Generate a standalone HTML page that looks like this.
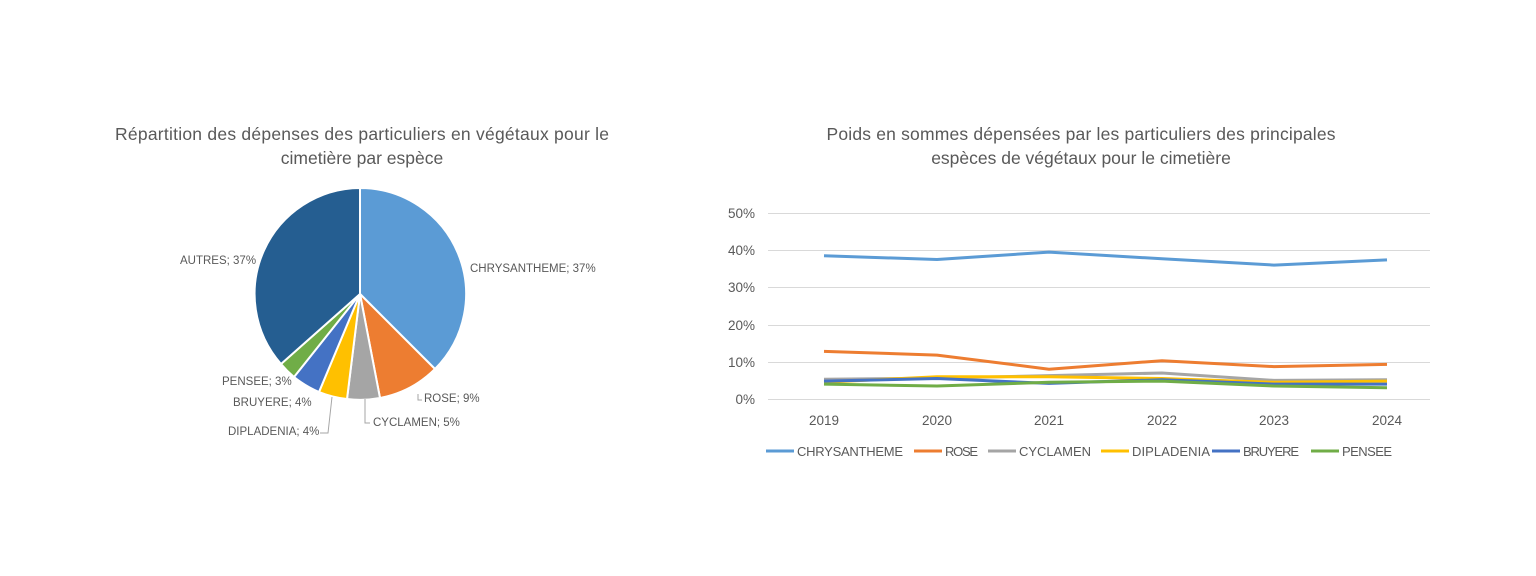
<!DOCTYPE html>
<html><head><meta charset="utf-8"><style>
body{margin:0;background:#fff;}
svg text{font-family:"Liberation Sans",sans-serif;fill:#595959;}
</style></head><body>
<svg width="1536" height="571" viewBox="0 0 1536 571" xmlns="http://www.w3.org/2000/svg">
<rect width="1536" height="571" fill="#fff"/>
<text x="362" y="140" font-size="17.5" text-anchor="middle" textLength="494">Répartition des dépenses des particuliers en végétaux pour le</text>
<text x="362" y="164" font-size="17.5" text-anchor="middle">cimetière par espèce</text>
<g stroke="#fff" stroke-width="2">
<path d="M360,294 L360,188 A106,106 0 0 1 435,369 Z" fill="#5B9BD5"/>
<path d="M360,294 L435,369 A106,106 0 0 1 380,398 Z" fill="#ED7D31"/>
<path d="M360,294 L380,398 A106,106 0 0 1 347,399 Z" fill="#A5A5A5"/>
<path d="M360,294 L347,399 A106,106 0 0 1 319,392 Z" fill="#FFC000"/>
<path d="M360,294 L319,392 A106,106 0 0 1 294,377 Z" fill="#4472C4"/>
<path d="M360,294 L294,377 A106,106 0 0 1 281,364 Z" fill="#70AD47"/>
<path d="M360,294 L281,364 A106,106 0 0 1 360,188 Z" fill="#255E91"/>
</g>
<g fill="none" stroke="#a6a6a6" stroke-width="1">
<polyline points="418,394 418,400 422,400"/>
<polyline points="365,399 365,423 370,423"/>
<polyline points="332,397 328,433 320,433"/>
</g>
<g font-size="11.5">
<text x="470" y="272">CHRYSANTHEME; 37%</text>
<text x="424" y="402">ROSE; 9%</text>
<text x="373" y="426">CYCLAMEN; 5%</text>
<text x="228" y="435">DIPLADENIA; 4%</text>
<text x="233" y="406">BRUYERE; 4%</text>
<text x="222" y="385">PENSEE; 3%</text>
<text x="180" y="264">AUTRES; 37%</text>
</g>
<text x="1081" y="140" font-size="17.5" text-anchor="middle" textLength="509">Poids en sommes dépensées par les particuliers des principales</text>
<text x="1081" y="164" font-size="17.5" text-anchor="middle">espèces de végétaux pour le cimetière</text>
<g stroke="#d9d9d9" stroke-width="1">
<line x1="768" x2="1430" y1="213.5" y2="213.5"/><line x1="768" x2="1430" y1="250.5" y2="250.5"/>
<line x1="768" x2="1430" y1="287.5" y2="287.5"/><line x1="768" x2="1430" y1="325.5" y2="325.5"/>
<line x1="768" x2="1430" y1="362.5" y2="362.5"/><line x1="768" x2="1430" y1="399.5" y2="399.5"/>
</g>
<g font-size="13.5" text-anchor="end">
<text x="755" y="218">50%</text><text x="755" y="255">40%</text><text x="755" y="292">30%</text>
<text x="755" y="330">20%</text><text x="755" y="367">10%</text><text x="755" y="404">0%</text>
</g>
<g font-size="13.5" text-anchor="middle">
<text x="824" y="425">2019</text><text x="937" y="425">2020</text><text x="1049" y="425">2021</text>
<text x="1162" y="425">2022</text><text x="1274" y="425">2023</text><text x="1387" y="425">2024</text>
</g>
<g fill="none" stroke-width="3" stroke-linejoin="round">
<polyline stroke="#A5A5A5" points="824,379.3 937,378.2 1049,375.6 1162,373 1274,380.4 1387,379.7"/>
<polyline stroke="#FFC000" points="824,382.3 937,376.7 1049,376.7 1162,378.5 1274,382.3 1387,381.1"/>
<polyline stroke="#4472C4" points="824,381.1 937,378.5 1049,383.4 1162,379.7 1274,384.1 1387,384.1"/>
<polyline stroke="#70AD47" points="824,384.1 937,386 1049,382.3 1162,381.1 1274,386 1387,387.8"/>
<polyline stroke="#ED7D31" points="824,351.4 937,355.1 1049,369.2 1162,360.7 1274,366.6 1387,364.4"/>
<polyline stroke="#5B9BD5" points="824,255.8 937,259.5 1049,252.1 1162,258.8 1274,265.1 1387,259.9"/>
</g>
<g stroke-width="3">
<line x1="766" x2="794" y1="451" y2="451" stroke="#5B9BD5"/>
<line x1="914" x2="942" y1="451" y2="451" stroke="#ED7D31"/>
<line x1="988" x2="1016" y1="451" y2="451" stroke="#A5A5A5"/>
<line x1="1101" x2="1129" y1="451" y2="451" stroke="#FFC000"/>
<line x1="1212" x2="1240" y1="451" y2="451" stroke="#4472C4"/>
<line x1="1311" x2="1339" y1="451" y2="451" stroke="#70AD47"/>
</g>
<g font-size="13">
<text x="797" y="456" textLength="106">CHRYSANTHEME</text><text x="945" y="456" textLength="33">ROSE</text>
<text x="1019" y="456" textLength="72">CYCLAMEN</text><text x="1132" y="456" textLength="78">DIPLADENIA</text>
<text x="1243" y="456" textLength="56">BRUYERE</text><text x="1342" y="456" textLength="50">PENSEE</text>
</g>
</svg>
</body></html>
